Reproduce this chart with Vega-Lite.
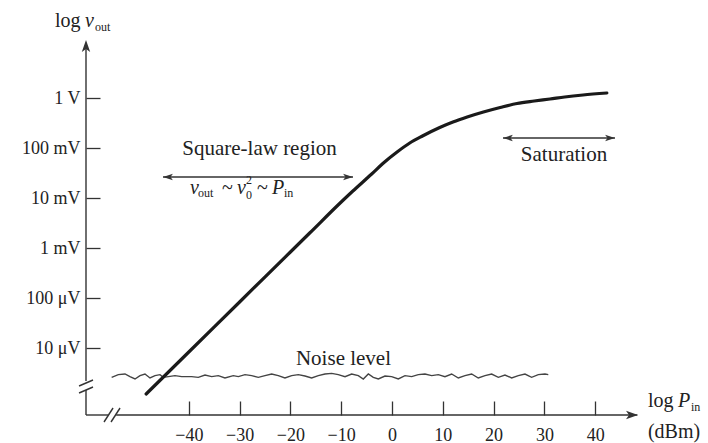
{
  "$schema": "https://vega.github.io/schema/vega-lite/v6.json",
  "width": 552,
  "height": 375,
  "autosize": {"type": "none"},
  "padding": {"left": 86, "top": 40, "right": 70, "bottom": 28},
  "background": "white",
  "config": {"view": {"stroke": null}, "font": "Liberation Serif"},
  "datasets": {
    "curve": [
      {"x": -48.4, "y": -5.92}, {"x": -40, "y": -5.08}, {"x": -30, "y": -4.08}, {"x": -20, "y": -3.08},
      {"x": -16.1, "y": -2.69}, {"x": -10, "y": -2.08}, {"x": -7.7, "y": -1.86}, {"x": -4, "y": -1.52},
      {"x": -1.8, "y": -1.31}, {"x": 1, "y": -1.08}, {"x": 3.5, "y": -0.9}, {"x": 6, "y": -0.76},
      {"x": 9.4, "y": -0.59}, {"x": 12, "y": -0.48}, {"x": 14.8, "y": -0.38}, {"x": 18, "y": -0.28},
      {"x": 21.3, "y": -0.19}, {"x": 24.6, "y": -0.11}, {"x": 28, "y": -0.06}, {"x": 31.1, "y": -0.02},
      {"x": 34, "y": 0.02}, {"x": 37.6, "y": 0.06}, {"x": 42.3, "y": 0.1}
    ],
    "noise": [
      {"x": -55.19, "y": -5.587}, {"x": -53.88, "y": -5.533}, {"x": -52.56, "y": -5.52}, {"x": -51.58, "y": -5.573},
      {"x": -50.59, "y": -5.62}, {"x": -49.61, "y": -5.553}, {"x": -48.63, "y": -5.52}, {"x": -47.64, "y": -5.6},
      {"x": -46.66, "y": -5.553}, {"x": -45.67, "y": -5.533}, {"x": -45.02, "y": -5.587}, {"x": -44.03, "y": -5.573},
      {"x": -42.72, "y": -5.553}, {"x": -41.41, "y": -5.573}, {"x": -39.44, "y": -5.573}, {"x": -38.13, "y": -5.587},
      {"x": -36.81, "y": -5.54}, {"x": -35.5, "y": -5.573}, {"x": -34.19, "y": -5.553}, {"x": -32.88, "y": -5.6},
      {"x": -31.24, "y": -5.553}, {"x": -30.25, "y": -5.573}, {"x": -28.94, "y": -5.533}, {"x": -27.63, "y": -5.553},
      {"x": -26.32, "y": -5.587}, {"x": -25.0, "y": -5.553}, {"x": -23.69, "y": -5.52}, {"x": -22.38, "y": -5.553},
      {"x": -21.07, "y": -5.6}, {"x": -19.75, "y": -5.553}, {"x": -18.44, "y": -5.533}, {"x": -17.13, "y": -5.56},
      {"x": -15.82, "y": -5.6}, {"x": -14.5, "y": -5.553}, {"x": -13.19, "y": -5.52}, {"x": -11.88, "y": -5.507},
      {"x": -10.57, "y": -5.533}, {"x": -9.25, "y": -5.573}, {"x": -7.94, "y": -5.52}, {"x": -6.63, "y": -5.553},
      {"x": -5.65, "y": -5.62}, {"x": -4.66, "y": -5.52}, {"x": -3.68, "y": -5.587}, {"x": -2.69, "y": -5.62},
      {"x": -1.38, "y": -5.56}, {"x": -0.07, "y": -5.573}, {"x": 1.24, "y": -5.62}, {"x": 2.56, "y": -5.553},
      {"x": 3.87, "y": -5.573}, {"x": 5.18, "y": -5.533}, {"x": 6.49, "y": -5.52}, {"x": 7.81, "y": -5.553},
      {"x": 9.12, "y": -5.533}, {"x": 10.43, "y": -5.573}, {"x": 11.74, "y": -5.52}, {"x": 13.06, "y": -5.6},
      {"x": 14.37, "y": -5.553}, {"x": 15.68, "y": -5.52}, {"x": 16.99, "y": -5.6}, {"x": 18.31, "y": -5.553},
      {"x": 19.62, "y": -5.52}, {"x": 20.93, "y": -5.587}, {"x": 22.24, "y": -5.54}, {"x": 23.56, "y": -5.6},
      {"x": 24.87, "y": -5.553}, {"x": 26.18, "y": -5.52}, {"x": 27.49, "y": -5.587}, {"x": 28.8, "y": -5.533},
      {"x": 30.12, "y": -5.52}, {"x": 30.77, "y": -5.533}
    ],
    "segments": [
      {"x": -60.24, "y": -5.66, "x2": -60.24, "y2": 1.1},
      {"x": -60.24, "y": -6.34, "x2": -60.24, "y2": -5.84},
      {"x": -60.24, "y": -6.34, "x2": -55.9, "y2": -6.34},
      {"x": -54.3, "y": -6.34, "x2": 48.3, "y2": -6.34},
      {"x": -61.61, "y": -5.76, "x2": -58.86, "y2": -5.64},
      {"x": -61.61, "y": -5.9, "x2": -58.86, "y2": -5.78},
      {"x": -56.69, "y": -6.48, "x2": -54.92, "y2": -6.2},
      {"x": -55.31, "y": -6.48, "x2": -53.54, "y2": -6.2},
      {"x": -45.08, "y": -1.58, "x2": -7.68, "y2": -1.58},
      {"x": 21.85, "y": -0.8, "x2": 43.9, "y2": -0.8}
    ],
    "heads": [
      {"x": -60.24, "y": 1.16, "dir": "up"},
      {"x": 48.43, "y": -6.34, "dir": "right"},
      {"x": -45.08, "y": -1.58, "dir": "left2"},
      {"x": -7.68, "y": -1.58, "dir": "right2"},
      {"x": 21.85, "y": -0.8, "dir": "left2"},
      {"x": 43.9, "y": -0.8, "dir": "right2"}
    ],
    "centered": [
      {"x": -26.08, "y": -1.14, "t": "Square-law region"},
      {"x": 33.86, "y": -1.26, "t": "Saturation"},
      {"x": -9.55, "y": -5.34, "t": "Noise level"}
    ],
    "regular": [
      {"x": -66.34, "y": 1.42, "t": "log"},
      {"x": -33.46, "y": -1.92, "t": "~"},
      {"x": -26.57, "y": -1.92, "t": "~"},
      {"x": 50.39, "y": -6.18, "t": "log"},
      {"x": 50.39, "y": -6.8, "t": "(dBm)"}
    ],
    "italic": [
      {"x": -60.43, "y": 1.42, "t": "v"},
      {"x": -39.76, "y": -1.92, "t": "v"},
      {"x": -30.51, "y": -1.92, "t": "v"},
      {"x": -23.62, "y": -1.92, "t": "P"},
      {"x": 56.3, "y": -6.18, "t": "P"}
    ],
    "small": [
      {"x": -58.46, "y": 1.34, "t": "out"},
      {"x": -38.19, "y": -1.98, "t": "out"},
      {"x": -28.74, "y": -2.02, "t": "0"},
      {"x": -28.74, "y": -1.71, "t": "2"},
      {"x": -21.26, "y": -1.98, "t": "in"},
      {"x": 58.86, "y": -6.26, "t": "in"}
    ]
  },
  "encoding": {
    "x": {
      "field": "x", "type": "quantitative",
      "scale": {"domain": [-60.24, 48.43], "nice": false, "zero": false},
      "axis": {
        "title": null, "domain": false, "grid": false,
        "values": [-40, -30, -20, -10, 0, 10, 20, 30, 40],
        "tickSize": -14, "tickWidth": 1.3, "tickColor": "#333",
        "labelPadding": 25, "labelFontSize": 18, "labelColor": "#222", "labelFont": "Liberation Serif"
      }
    },
    "y": {
      "field": "y", "type": "quantitative",
      "scale": {"domain": [-6.34, 1.16], "nice": false, "zero": false},
      "axis": {
        "title": null, "domain": false, "grid": false,
        "values": [-5, -4, -3, -2, -1, 0],
        "labelExpr": "datum.value == 0 ? '1 V' : datum.value == -1 ? '100 mV' : datum.value == -2 ? '10 mV' : datum.value == -3 ? '1 mV' : datum.value == -4 ? '100 μV' : '10 μV'",
        "tickSize": -14, "tickWidth": 1.3, "tickColor": "#333",
        "labelPadding": 20, "labelFontSize": 18, "labelColor": "#222", "labelFont": "Liberation Serif"
      }
    }
  },
  "layer": [
    {
      "data": {"name": "noise"},
      "mark": {"type": "line", "stroke": "#444", "strokeWidth": 1.4}
    },
    {
      "data": {"name": "curve"},
      "mark": {"type": "line", "stroke": "#1a1a1a", "strokeWidth": 3.2, "interpolate": "monotone", "strokeCap": "round"}
    },
    {
      "data": {"name": "segments"},
      "mark": {"type": "rule", "stroke": "#333", "strokeWidth": 1.4},
      "encoding": {"x2": {"field": "x2"}, "y2": {"field": "y2"}}
    },
    {
      "data": {"name": "heads"},
      "mark": {"type": "point", "filled": true, "size": 36, "opacity": 1, "color": "#333"},
      "encoding": {
        "shape": {
          "field": "dir", "type": "nominal", "legend": null,
          "scale": {
            "domain": ["up", "right", "left2", "right2"],
            "range": ["M0,0L-1.4,4L0,3L1.4,4Z", "M0,0L-4,-1.4L-3,0L-4,1.4Z", "M0,0L3.3,-1.1L2.5,0L3.3,1.1Z", "M0,0L-3.3,-1.1L-2.5,0L-3.3,1.1Z"]
          }
        }
      }
    },
    {
      "data": {"name": "centered"},
      "mark": {"type": "text", "align": "center", "baseline": "alphabetic", "fontSize": 21, "font": "Liberation Serif", "color": "#222"},
      "encoding": {"text": {"field": "t"}}
    },
    {
      "data": {"name": "regular"},
      "mark": {"type": "text", "align": "left", "baseline": "alphabetic", "fontSize": 20, "font": "Liberation Serif", "color": "#222"},
      "encoding": {"text": {"field": "t"}}
    },
    {
      "data": {"name": "italic"},
      "mark": {"type": "text", "align": "left", "baseline": "alphabetic", "fontSize": 20, "fontStyle": "italic", "font": "Liberation Serif", "color": "#222"},
      "encoding": {"text": {"field": "t"}}
    },
    {
      "data": {"name": "small"},
      "mark": {"type": "text", "align": "left", "baseline": "alphabetic", "fontSize": 12, "font": "Liberation Serif", "color": "#222"},
      "encoding": {"text": {"field": "t"}}
    }
  ]
}
